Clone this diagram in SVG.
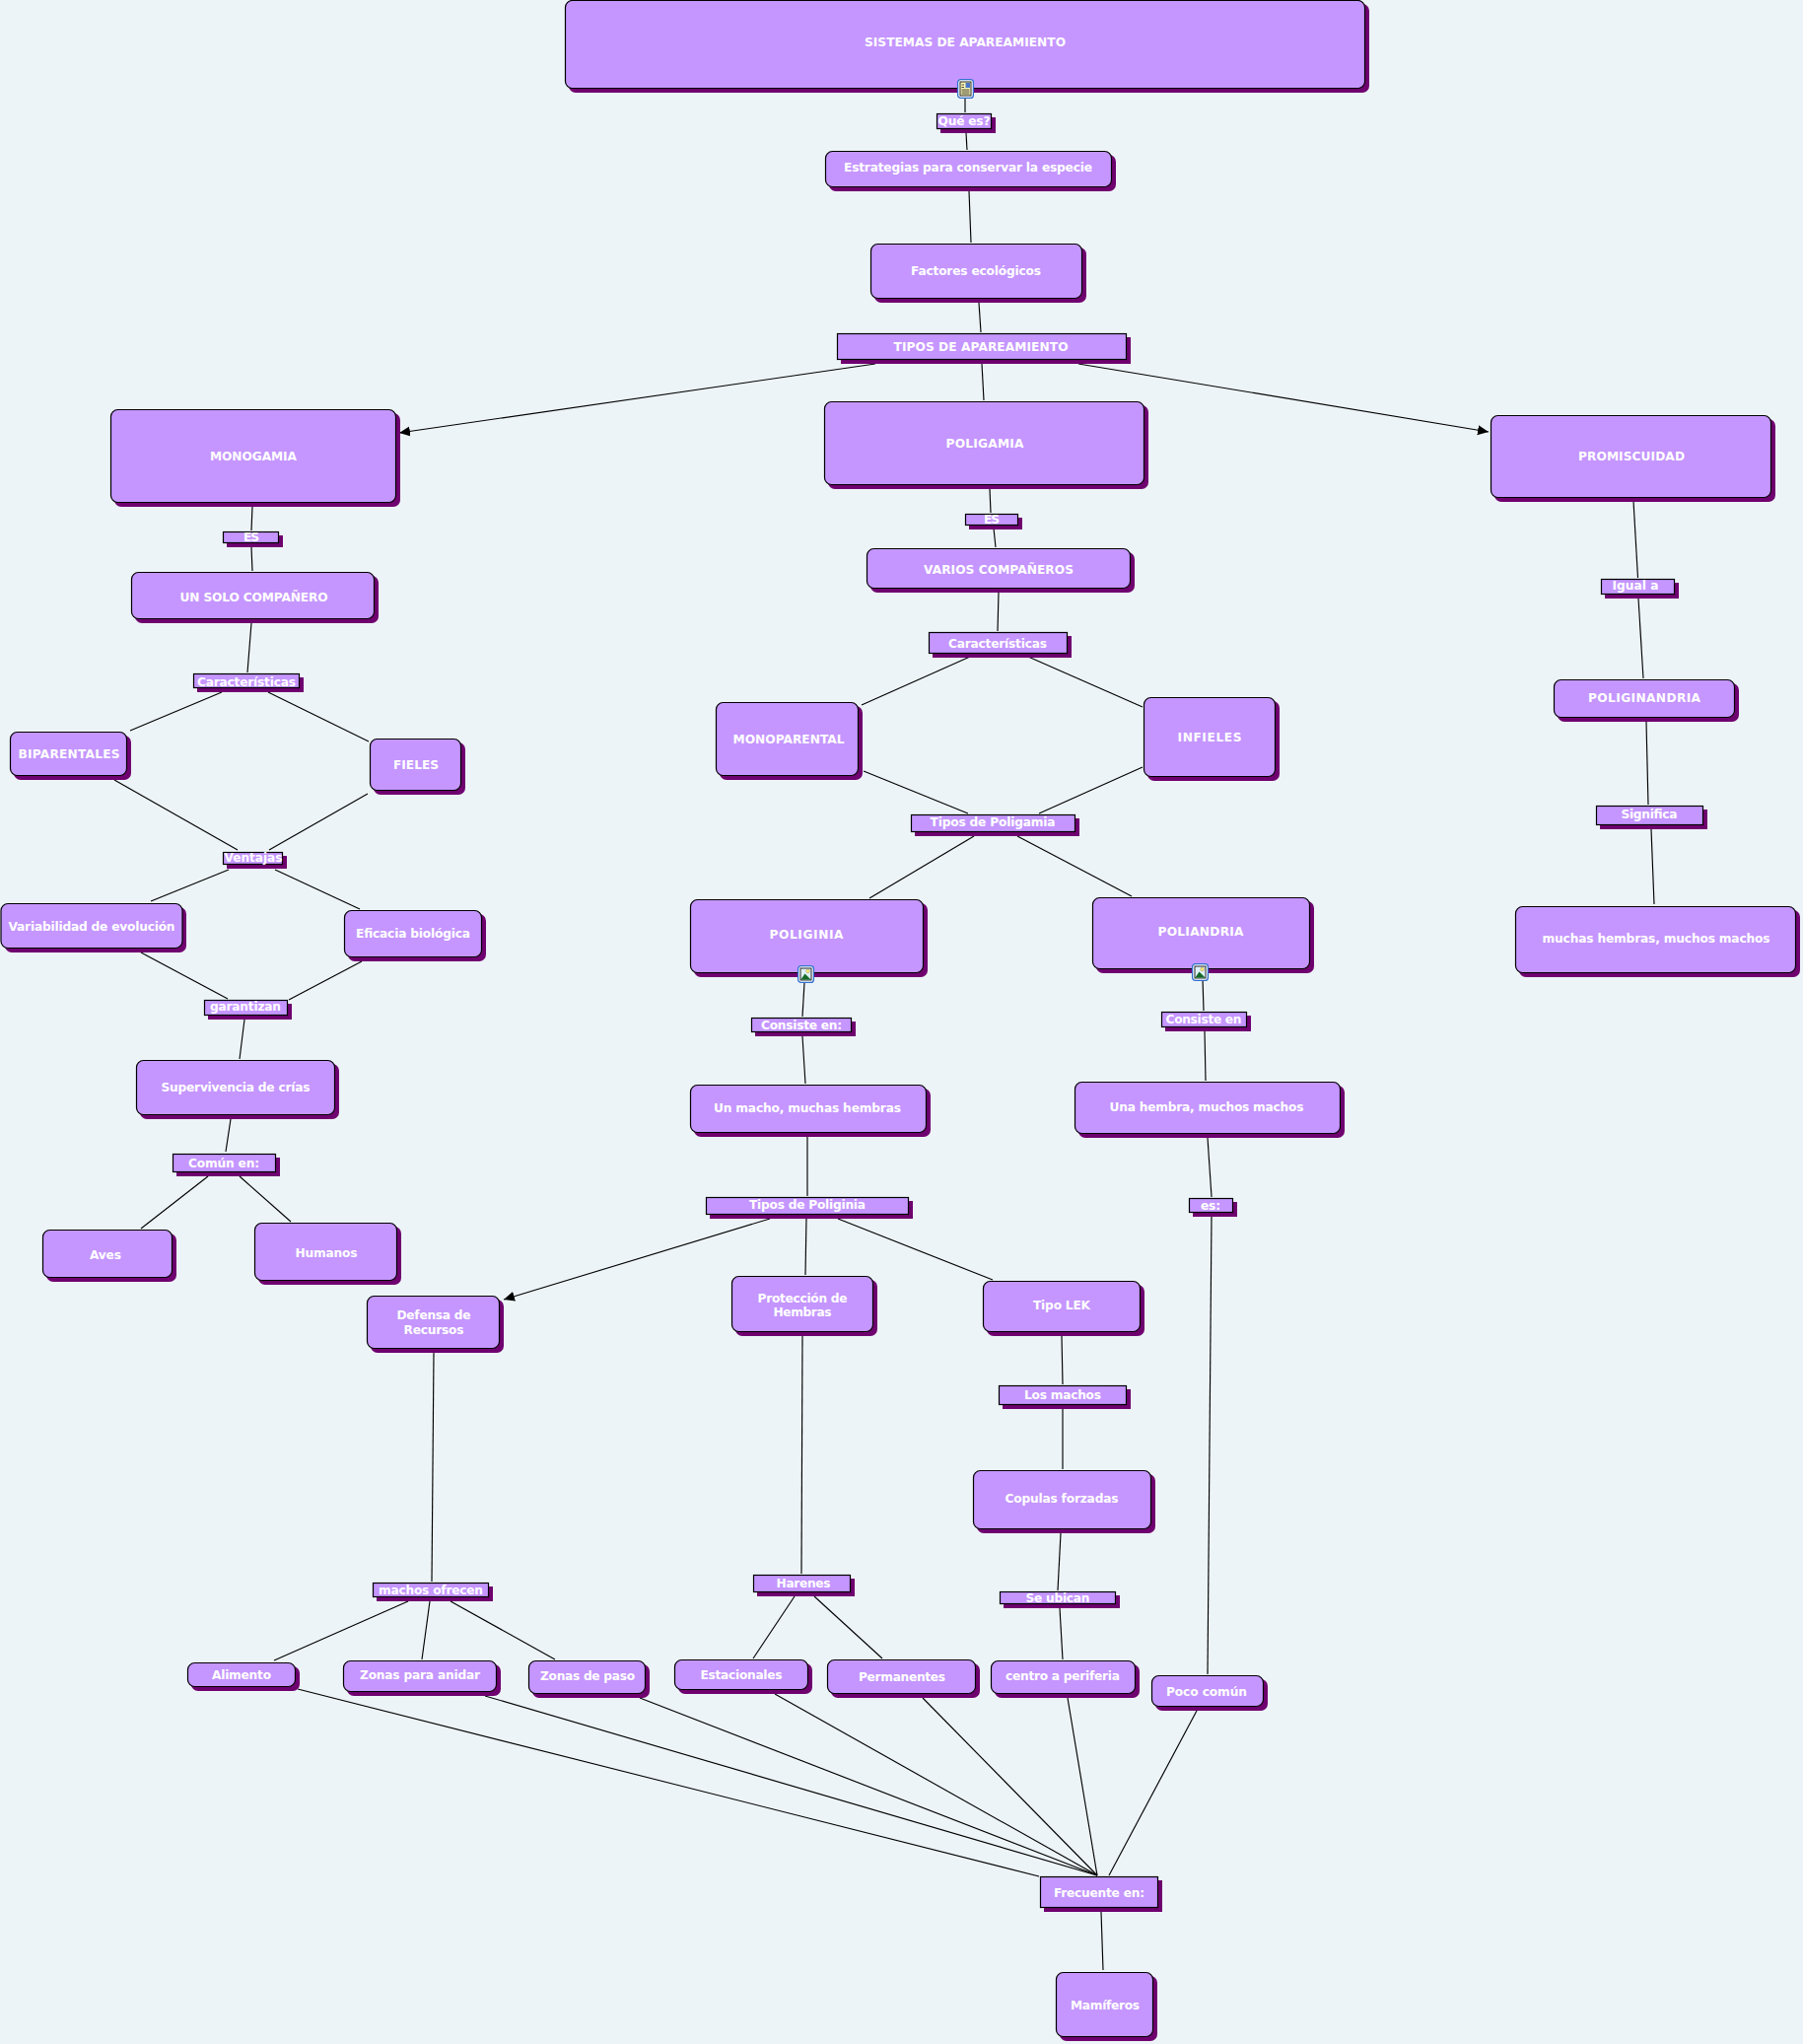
<svg xmlns="http://www.w3.org/2000/svg" xmlns:xlink="http://www.w3.org/1999/xlink" width="1829" height="2073" viewBox="0 0 1829 2073">
<style>
.bg{fill:#edf4f7}
.c line,.c{stroke:#000;stroke-width:1.15;fill:none}
.s{fill:#6f006f}
.b{fill:#c596ff;stroke:#000;stroke-width:1.2}
.t{font-family:"DejaVu Sans",Verdana,sans-serif;font-weight:700;font-size:12.2px;fill:#fff;text-anchor:middle}
.i{fill:#fff;stroke:#2f6fd0;stroke-width:1.3}
</style>
<defs>
<marker id="arrow" markerUnits="userSpaceOnUse" markerWidth="12" markerHeight="11" refX="11" refY="5" orient="auto"><path d="M0,0L11,5L0,10Z" fill="#000"/></marker>
<symbol id="pic" viewBox="0 0 17 18" overflow="visible">
<rect class="i" x="0.6" y="0.6" width="15.8" height="16.800" rx="3"/>
<rect x="3" y="3" width="11" height="12" fill="#dff0fa" stroke="#111" stroke-width="0.9"/>
<circle cx="10.500" cy="6" r="1.800" fill="#ffe97a" stroke="#8a7a20" stroke-width="0.4"/>
<path d="M3.400,14.600L7.500,8.500L13.600,14.600Z" fill="#156a26"/>
</symbol>
<symbol id="doc" viewBox="0 0 17 20" overflow="visible">
<rect class="i" x="0.6" y="0.6" width="15.8" height="18.800" rx="3"/>
<rect x="3" y="3" width="11" height="14" fill="#fdf7b8" stroke="#111" stroke-width="0.9"/>
<path d="M4.500,6H7M4.500,8.500H7M4.500,11H12.500M4.500,13H12.500M4.500,15H12.500" stroke="#111" stroke-width="0.8" fill="none"/>
<rect x="8.500" y="4" width="4.500" height="5" fill="#4a74c8"/>
</symbol>
</defs>
<rect class="bg" width="1829" height="2073"/>
<g id="connectors" class="c">
<line x1="979" y1="99" x2="979" y2="114"/>
<line x1="980" y1="135" x2="981" y2="152"/>
<line x1="983" y1="194" x2="985" y2="246"/>
<line x1="993" y1="307" x2="995" y2="337"/>
<line x1="996" y1="369" x2="998" y2="406"/>
<line x1="888" y1="369" x2="405" y2="439" marker-end="url(#arrow)"/>
<line x1="1094" y1="369" x2="1510" y2="438" marker-end="url(#arrow)"/>
<line x1="256" y1="514" x2="255" y2="538"/>
<line x1="255" y1="555" x2="256" y2="579"/>
<line x1="255" y1="632" x2="251" y2="682"/>
<line x1="225" y1="702" x2="132" y2="741"/>
<line x1="272" y1="702" x2="374" y2="752"/>
<line x1="116" y1="791" x2="241" y2="862"/>
<line x1="373" y1="805" x2="273" y2="862"/>
<line x1="232" y1="882" x2="153" y2="914"/>
<line x1="279" y1="882" x2="365" y2="922"/>
<line x1="143" y1="966" x2="231" y2="1013"/>
<line x1="367" y1="975" x2="293" y2="1014"/>
<line x1="248" y1="1034" x2="243" y2="1074"/>
<line x1="234" y1="1135" x2="229" y2="1168"/>
<line x1="211" y1="1193" x2="143" y2="1246"/>
<line x1="243" y1="1193" x2="295" y2="1239"/>
<line x1="1004" y1="496" x2="1005" y2="520"/>
<line x1="1008" y1="536" x2="1010" y2="555"/>
<line x1="1013" y1="600" x2="1012" y2="640"/>
<line x1="984" y1="666" x2="874" y2="715"/>
<line x1="1043" y1="666" x2="1159" y2="717"/>
<line x1="876" y1="782" x2="982" y2="825"/>
<line x1="1159" y1="778" x2="1054" y2="825"/>
<line x1="988" y1="848" x2="882" y2="911"/>
<line x1="1032" y1="848" x2="1148" y2="909"/>
<line x1="1657" y1="508" x2="1661.500" y2="586"/>
<line x1="1662" y1="607" x2="1667" y2="688"/>
<line x1="1670" y1="732" x2="1672" y2="816"/>
<line x1="1675" y1="841" x2="1678" y2="917"/>
<line x1="816" y1="997" x2="814" y2="1031"/>
<line x1="814" y1="1051" x2="817" y2="1099"/>
<line x1="819" y1="1153" x2="819" y2="1213"/>
<line x1="1220" y1="993" x2="1221" y2="1025"/>
<line x1="1222" y1="1046" x2="1223" y2="1096"/>
<line x1="1225" y1="1154" x2="1229" y2="1214"/>
<line x1="1229" y1="1234" x2="1225" y2="1698"/>
<line x1="781" y1="1236" x2="511" y2="1318" marker-end="url(#arrow)"/>
<line x1="818" y1="1236" x2="817" y2="1293"/>
<line x1="850" y1="1236" x2="1007" y2="1298"/>
<line x1="1077" y1="1355" x2="1078" y2="1404"/>
<line x1="1078" y1="1428" x2="1078" y2="1490"/>
<line x1="1076" y1="1555" x2="1073" y2="1613"/>
<line x1="1075" y1="1631" x2="1078" y2="1683"/>
<line x1="440" y1="1372" x2="438" y2="1604"/>
<line x1="814" y1="1355" x2="813" y2="1596"/>
<line x1="806" y1="1619" x2="764" y2="1682"/>
<line x1="826" y1="1619" x2="895" y2="1682"/>
<line x1="414" y1="1624" x2="278" y2="1684"/>
<line x1="436" y1="1624" x2="428" y2="1683"/>
<line x1="457" y1="1624" x2="563" y2="1683"/>
<line x1="302" y1="1713" x2="1054" y2="1903"/>
<line x1="492" y1="1720" x2="1113" y2="1902"/>
<line x1="649" y1="1722" x2="1113" y2="1902"/>
<line x1="786" y1="1718" x2="1113" y2="1902"/>
<line x1="936" y1="1722" x2="1113" y2="1902"/>
<line x1="1083" y1="1722" x2="1113" y2="1902"/>
<line x1="1214" y1="1735" x2="1125" y2="1902"/>
<line x1="1117" y1="1939" x2="1119" y2="1998"/>
</g>
<g id="n-sistemas"><rect class="s" x="577" y="4" width="812" height="90" rx="7"/><rect class="b" x="573.500" y="0.500" width="811" height="89" rx="7"/><text class="t" x="979" y="47" textLength="204">SISTEMAS DE APAREAMIENTO</text><use xlink:href="#doc" href="#doc" x="971" y="80" width="17" height="20"/></g>
<g id="n-quees"><rect class="s" x="954" y="119" width="56" height="16"/><rect class="b" x="950.500" y="115.500" width="55" height="15"/><text class="t" x="978" y="127" textLength="53">Qué es?</text></g>
<g id="n-estrategias"><rect class="s" x="841" y="157" width="291" height="37" rx="7"/><rect class="b" x="837.500" y="153.500" width="290" height="36" rx="7"/><text class="t" x="982" y="174" textLength="252">Estrategias para conservar la especie</text></g>
<g id="n-factores"><rect class="s" x="887" y="251" width="215" height="56" rx="7"/><rect class="b" x="883.500" y="247.500" width="214" height="55" rx="7"/><text class="t" x="990" y="279" textLength="132">Factores ecológicos</text></g>
<g id="n-tipos"><rect class="s" x="853" y="342" width="294" height="27"/><rect class="b" x="849.500" y="338.500" width="293" height="26"/><text class="t" x="995" y="356" textLength="177">TIPOS DE APAREAMIENTO</text></g>
<g id="n-monogamia"><rect class="s" x="116" y="419" width="290" height="95" rx="7"/><rect class="b" x="112.500" y="415.500" width="289" height="94" rx="7"/><text class="t" x="257" y="467" textLength="88">MONOGAMIA</text></g>
<g id="n-es1"><rect class="s" x="230" y="543" width="57" height="12"/><rect class="b" x="226.500" y="539.500" width="56" height="11"/><text class="t" x="255" y="549" textLength="16">ES</text></g>
<g id="n-unsolo"><rect class="s" x="137" y="584" width="247" height="48" rx="7"/><rect class="b" x="133.500" y="580.500" width="246" height="47" rx="7"/><text class="t" x="257.500" y="610" textLength="150">UN SOLO COMPAÑERO</text></g>
<g id="n-carac1"><rect class="s" x="200" y="687" width="108" height="15"/><rect class="b" x="196.500" y="683.500" width="107" height="14"/><text class="t" x="250" y="696" textLength="100">Características</text></g>
<g id="n-biparentales"><rect class="s" x="14" y="746" width="119" height="45" rx="7"/><rect class="b" x="10.500" y="742.500" width="118" height="44" rx="7"/><text class="t" x="70" y="769" textLength="103">BIPARENTALES</text></g>
<g id="n-fieles"><rect class="s" x="379" y="753" width="93" height="53" rx="7"/><rect class="b" x="375.500" y="749.500" width="92" height="52" rx="7"/><text class="t" x="422" y="780" textLength="46">FIELES</text></g>
<g id="n-ventajas"><rect class="s" x="230" y="868" width="61" height="13"/><rect class="b" x="226.500" y="864.500" width="60" height="12"/><text class="t" x="257" y="874" textLength="59">Ventajas</text></g>
<g id="n-variabilidad"><rect class="s" x="5" y="920" width="184" height="46" rx="7"/><rect class="b" x="1" y="916.500" width="184" height="45" rx="7"/><text class="t" x="93" y="944" textLength="169">Variabilidad de evolución</text></g>
<g id="n-eficacia"><rect class="s" x="353" y="927" width="140" height="48" rx="7"/><rect class="b" x="349.500" y="923.500" width="139" height="47" rx="7"/><text class="t" x="419" y="951" textLength="116">Eficacia biológica</text></g>
<g id="n-garantizan"><rect class="s" x="211" y="1018" width="85" height="16"/><rect class="b" x="207.500" y="1014.500" width="84" height="15"/><text class="t" x="249" y="1025" textLength="72">garantizan</text></g>
<g id="n-supervivencia"><rect class="s" x="142" y="1079" width="202" height="56" rx="7"/><rect class="b" x="138.500" y="1075.500" width="201" height="55" rx="7"/><text class="t" x="239" y="1107" textLength="151">Supervivencia de crías</text></g>
<g id="n-comun"><rect class="s" x="179" y="1174" width="105" height="19"/><rect class="b" x="175.500" y="1170.500" width="104" height="18"/><text class="t" x="227" y="1184" textLength="72">Común en:</text></g>
<g id="n-aves"><rect class="s" x="47" y="1251" width="132" height="49" rx="7"/><rect class="b" x="43.500" y="1247.500" width="131" height="48" rx="7"/><text class="t" x="107" y="1277" textLength="32">Aves</text></g>
<g id="n-humanos"><rect class="s" x="262" y="1244" width="145" height="59" rx="7"/><rect class="b" x="258.500" y="1240.500" width="144" height="58" rx="7"/><text class="t" x="331" y="1275" textLength="63">Humanos</text></g>
<g id="n-poligamia"><rect class="s" x="840" y="411" width="325" height="85" rx="7"/><rect class="b" x="836.500" y="407.500" width="324" height="84" rx="7"/><text class="t" x="999" y="454" textLength="79">POLIGAMIA</text></g>
<g id="n-es2"><rect class="s" x="983" y="525" width="54" height="12"/><rect class="b" x="979.500" y="521.500" width="53" height="11"/><text class="t" x="1006" y="531" textLength="16">ES</text></g>
<g id="n-varios"><rect class="s" x="883" y="560" width="268" height="41" rx="7"/><rect class="b" x="879.500" y="556.500" width="267" height="40" rx="7"/><text class="t" x="1013" y="582" textLength="152">VARIOS COMPAÑEROS</text></g>
<g id="n-carac2"><rect class="s" x="946" y="645" width="141" height="22"/><rect class="b" x="942.500" y="641.500" width="140" height="21"/><text class="t" x="1012" y="657" textLength="100">Características</text></g>
<g id="n-monoparental"><rect class="s" x="730" y="716" width="145" height="75" rx="7"/><rect class="b" x="726.500" y="712.500" width="144" height="74" rx="7"/><text class="t" x="800" y="754" textLength="113">MONOPARENTAL</text></g>
<g id="n-infieles"><rect class="s" x="1164" y="711" width="134" height="81" rx="7"/><rect class="b" x="1160.500" y="707.500" width="133" height="80" rx="7"/><text class="t" x="1227" y="752" textLength="65">INFIELES</text></g>
<g id="n-tiposp"><rect class="s" x="928" y="830" width="167" height="18"/><rect class="b" x="924.500" y="826.500" width="166" height="17"/><text class="t" x="1007" y="838" textLength="127">Tipos de Poligamia</text></g>
<g id="n-poliginia"><rect class="s" x="704" y="916" width="237" height="75" rx="7"/><rect class="b" x="700.500" y="912.500" width="236" height="74" rx="7"/><text class="t" x="818" y="952" textLength="75">POLIGINIA</text><use xlink:href="#pic" href="#pic" x="809" y="979" width="17" height="18"/></g>
<g id="n-poliandria"><rect class="s" x="1112" y="914" width="221" height="73" rx="7"/><rect class="b" x="1108.500" y="910.500" width="220" height="72" rx="7"/><text class="t" x="1218" y="949" textLength="87">POLIANDRIA</text><use xlink:href="#pic" href="#pic" x="1209" y="977" width="17" height="18"/></g>
<g id="n-consiste1"><rect class="s" x="766" y="1036" width="102" height="15"/><rect class="b" x="762.500" y="1032.500" width="101" height="14"/><text class="t" x="813" y="1044" textLength="82">Consiste en:</text></g>
<g id="n-consiste2"><rect class="s" x="1182" y="1030" width="87" height="16"/><rect class="b" x="1178.500" y="1026.500" width="86" height="15"/><text class="t" x="1221" y="1038" textLength="77">Consiste en</text></g>
<g id="n-unmacho"><rect class="s" x="704" y="1104" width="240" height="49" rx="7"/><rect class="b" x="700.500" y="1100.500" width="239" height="48" rx="7"/><text class="t" x="819" y="1128" textLength="190">Un macho, muchas hembras</text></g>
<g id="n-unahembra"><rect class="s" x="1094" y="1101" width="270" height="53" rx="7"/><rect class="b" x="1090.500" y="1097.500" width="269" height="52" rx="7"/><text class="t" x="1224" y="1127" textLength="197">Una hembra, muchos machos</text></g>
<g id="n-tiposg"><rect class="s" x="720" y="1218" width="206" height="18"/><rect class="b" x="716.500" y="1214.500" width="205" height="17"/><text class="t" x="819" y="1226" textLength="118">Tipos de Poliginia</text></g>
<g id="n-es3"><rect class="s" x="1210" y="1219" width="45" height="15"/><rect class="b" x="1206.500" y="1215.500" width="44" height="14"/><text class="t" x="1228" y="1227" textLength="20">es:</text></g>
<g id="n-promiscuidad"><rect class="s" x="1516" y="425" width="285" height="84" rx="7"/><rect class="b" x="1512.500" y="421.500" width="284" height="83" rx="7"/><text class="t" x="1655" y="467" textLength="108">PROMISCUIDAD</text></g>
<g id="n-igual"><rect class="s" x="1628" y="591" width="75" height="16"/><rect class="b" x="1624.500" y="587.500" width="74" height="15"/><text class="t" x="1659" y="598" textLength="47">Igual a</text></g>
<g id="n-poliginandria"><rect class="s" x="1580" y="693" width="184" height="39" rx="7"/><rect class="b" x="1576.500" y="689.500" width="183" height="38" rx="7"/><text class="t" x="1668" y="712" textLength="114">POLIGINANDRIA</text></g>
<g id="n-significa"><rect class="s" x="1623" y="821" width="109" height="20"/><rect class="b" x="1619.500" y="817.500" width="108" height="19"/><text class="t" x="1673" y="830" textLength="57">Significa</text></g>
<g id="n-muchas"><rect class="s" x="1541" y="923" width="285" height="68" rx="7"/><rect class="b" x="1537.500" y="919.500" width="284" height="67" rx="7"/><text class="t" x="1680" y="956" textLength="231">muchas hembras, muchos machos</text></g>
<g id="n-defensa"><rect class="s" x="376" y="1318" width="135" height="54" rx="7"/><rect class="b" x="372.500" y="1314.500" width="134" height="53" rx="7"/><text class="t" x="440" y="1338" textLength="75">Defensa de</text><text class="t" x="440" y="1353" textLength="61">Recursos</text></g>
<g id="n-proteccion"><rect class="s" x="746" y="1298" width="144" height="57" rx="7"/><rect class="b" x="742.500" y="1294.500" width="143" height="56" rx="7"/><text class="t" x="814" y="1321" textLength="91">Protección de</text><text class="t" x="814" y="1335" textLength="59">Hembras</text></g>
<g id="n-lek"><rect class="s" x="1001" y="1303" width="160" height="52" rx="7"/><rect class="b" x="997.500" y="1299.500" width="159" height="51" rx="7"/><text class="t" x="1077" y="1328" textLength="58">Tipo LEK</text></g>
<g id="n-losmachos"><rect class="s" x="1017" y="1409" width="130" height="20"/><rect class="b" x="1013.500" y="1405.500" width="129" height="19"/><text class="t" x="1078" y="1419" textLength="78">Los machos</text></g>
<g id="n-copulas"><rect class="s" x="991" y="1495" width="181" height="60" rx="7"/><rect class="b" x="987.500" y="1491.500" width="180" height="59" rx="7"/><text class="t" x="1077" y="1524" textLength="115">Copulas forzadas</text></g>
<g id="n-machos"><rect class="s" x="382" y="1609" width="118" height="15"/><rect class="b" x="378.500" y="1605.500" width="117" height="14"/><text class="t" x="437" y="1617" textLength="106">machos ofrecen</text></g>
<g id="n-harenes"><rect class="s" x="768" y="1601" width="99" height="18"/><rect class="b" x="764.500" y="1597.500" width="98" height="17"/><text class="t" x="815" y="1610" textLength="55">Harenes</text></g>
<g id="n-seubican"><rect class="s" x="1018" y="1618" width="118" height="13"/><rect class="b" x="1014.500" y="1614.500" width="117" height="12"/><text class="t" x="1073" y="1625" textLength="65">Se ubican</text></g>
<g id="n-alimento"><rect class="s" x="194" y="1690" width="110" height="25" rx="7"/><rect class="b" x="190.500" y="1686.500" width="109" height="24" rx="7"/><text class="t" x="245" y="1703" textLength="60">Alimento</text></g>
<g id="n-zonasanidar"><rect class="s" x="352" y="1688" width="156" height="32" rx="7"/><rect class="b" x="348.500" y="1684.500" width="155" height="31" rx="7"/><text class="t" x="426" y="1703" textLength="122">Zonas para anidar</text></g>
<g id="n-zonaspaso"><rect class="s" x="540" y="1688" width="119" height="34" rx="7"/><rect class="b" x="536.500" y="1684.500" width="118" height="33" rx="7"/><text class="t" x="596" y="1704" textLength="96">Zonas de paso</text></g>
<g id="n-estacionales"><rect class="s" x="688" y="1687" width="136" height="31" rx="7"/><rect class="b" x="684.500" y="1683.500" width="135" height="30" rx="7"/><text class="t" x="752" y="1703" textLength="83">Estacionales</text></g>
<g id="n-permanentes"><rect class="s" x="843" y="1687" width="151" height="35" rx="7"/><rect class="b" x="839.500" y="1683.500" width="150" height="34" rx="7"/><text class="t" x="915" y="1705" textLength="88">Permanentes</text></g>
<g id="n-centro"><rect class="s" x="1009" y="1688" width="147" height="34" rx="7"/><rect class="b" x="1005.500" y="1684.500" width="146" height="33" rx="7"/><text class="t" x="1078" y="1704" textLength="116">centro a periferia</text></g>
<g id="n-poco"><rect class="s" x="1172" y="1703" width="114" height="32" rx="7"/><rect class="b" x="1168.500" y="1699.500" width="113" height="31" rx="7"/><text class="t" x="1224" y="1720" textLength="82">Poco común</text></g>
<g id="n-frecuente"><rect class="s" x="1059" y="1907" width="120" height="32"/><rect class="b" x="1055.500" y="1903.500" width="119" height="31"/><text class="t" x="1115" y="1924" textLength="92">Frecuente en:</text></g>
<g id="n-mamiferos"><rect class="s" x="1075" y="2004" width="99" height="66" rx="7"/><rect class="b" x="1071.500" y="2000.500" width="98" height="65" rx="7"/><text class="t" x="1121" y="2038" textLength="70">Mamíferos</text></g>
</svg>
